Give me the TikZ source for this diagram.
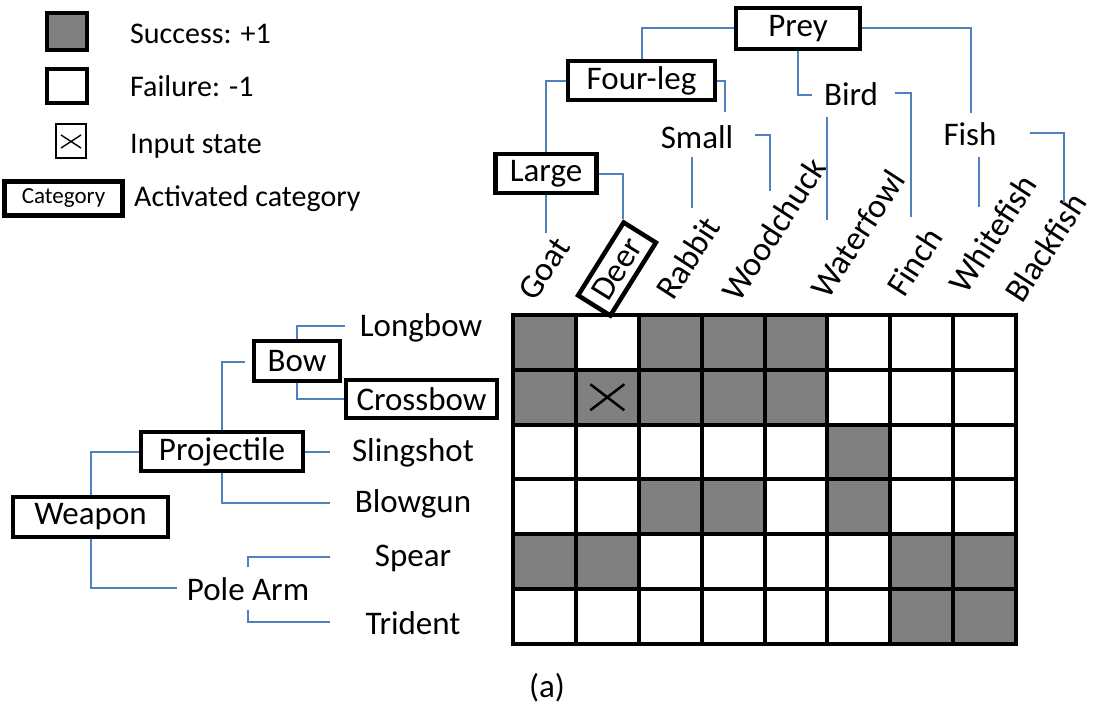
\documentclass[tikz,border=0pt]{standalone}
\usepackage{fontspec}
\setmainfont{Carlito}
\definecolor{cellgray}{HTML}{808080}
\definecolor{linkblue}{HTML}{4F81BD}
\begin{document}
\begin{tikzpicture}[x=1pt,y=-1pt,
  catbox/.style={draw=black, line width=4.5pt, fill=white, inner sep=0pt,
    font=\fontsize{33}{36}\selectfont},
  plain/.style={inner sep=0pt, font=\fontsize{33}{36}\selectfont},
  legtext/.style={inner sep=0pt, anchor=west, font=\fontsize{30}{34}\selectfont},
  colname/.style={inner sep=0pt, anchor=base west, rotate=57,
    font=\fontsize{34}{38}\selectfont},
  link/.style={draw=linkblue, line width=2pt},
  gridline/.style={draw=black, line width=4pt}
]
\useasboundingbox (0,0) rectangle (1094,709);

% ---------- legend ----------
\draw[line width=4.5pt, fill=cellgray] (47,13) rectangle (87,50);
\draw[line width=4.5pt, fill=white] (47,69) rectangle (87,103);
\draw[line width=1.6pt] (56,124) rectangle (86,158);
\draw[line width=1.4pt] (61,135) -- (81,148) (61,148) -- (81,135);
\node[draw, line width=5pt, minimum width=118pt, minimum height=34pt, inner sep=0pt,
  font=\fontsize{23}{26}\selectfont] (legcat) at (63.5,198) {Category};
\node[legtext] (legsucc) at (130,34) {Success: +1};
\node[legtext] (legfail) at (130,86) {Failure: -1};
\node[legtext] (leginput) at (130,146) {Input state};
\node[legtext] (legact) at (134,199) {Activated category};

% ---------- prey hierarchy ----------
\node[catbox, minimum width=124pt, minimum height=41pt] (prey) at (798,28.5) {Prey};
\node[catbox, minimum width=147pt, minimum height=39pt] (fourleg) at (641.5,80.5) {Four-leg};
\node[catbox, minimum width=101pt, minimum height=39pt] (large) at (546,173.5) {Large};
\node[plain] (bird) at (851,94) {Bird};
\node[plain] (small) at (697,137) {Small};
\node[plain] (fish) at (970,134) {Fish};

\node[colname] (goat) at (535,303) {Goat};
\node[catbox, rotate=58, minimum width=86pt, minimum height=38pt,
  font=\fontsize{34}{38}\selectfont] (deer) at (617,269) {Deer};
\node[colname] (rabbit) at (673,302) {Rabbit};
\node[colname] (woodchuck) at (739,304) {Woodchuck};
\node[colname] (waterfowl) at (828,301) {Waterfowl};
\node[colname] (finch) at (904,299) {Finch};
\node[colname] (whitefish) at (966,296) {Whitefish};
\node[colname] (blackfish) at (1022,305) {Blackfish};

\coordinate (fishtop) at (971,113);
\coordinate (birdin) at (812,95);
\coordinate (smallin) at (725,112);
\coordinate (goattop) at (546,233);
\coordinate (rabbitA) at (692,157);
\coordinate (rabbitB) at (692,208);
\coordinate (smallout) at (755,135);
\coordinate (woodtop) at (770,191);
\coordinate (waterA) at (827,117);
\coordinate (waterB) at (827,220);
\coordinate (birdout) at (895,93);
\coordinate (finchtop) at (911,217);
\coordinate (whiteA) at (979,157);
\coordinate (whiteB) at (979,207);
\coordinate (fishout) at (1030,133);
\coordinate (blacktop) at (1064,203);

\draw[link] (prey.west) -| (fourleg.north);
\draw[link] (prey.east) -| (fishtop);
\draw[link] (prey.south) |- (birdin);
\draw[link] (fourleg.west) -| (large.north);
\draw[link] (fourleg.east) -| (smallin);
\draw[link] (large.east) -| (deer.north east);
\draw[link] (large.south) -- (goattop);
\draw[link] (rabbitA) -- (rabbitB);
\draw[link] (smallout) -| (woodtop);
\draw[link] (waterA) -- (waterB);
\draw[link] (birdout) -| (finchtop);
\draw[link] (whiteA) -- (whiteB);
\draw[link] (fishout) -| (blacktop);

% ---------- weapon hierarchy ----------
\node[catbox, minimum width=155pt, minimum height=40pt] (weapon) at (90.5,517) {Weapon};
\node[catbox, minimum width=162pt, minimum height=39pt] (projectile) at (222,451.5) {Projectile};
\node[catbox, minimum width=86pt, minimum height=40pt] (bow) at (297,361) {Bow};
\node[catbox, minimum width=151pt, minimum height=38pt] (crossbow) at (421.5,399) {Crossbow};
\node[plain] (longbow) at (421,328) {Longbow};
\node[plain] (slingshot) at (413,453) {Slingshot};
\node[plain] (blowgun) at (413,504) {Blowgun};
\node[plain] (spear) at (413,558) {Spear};
\node[plain] (polearm) at (248,589) {Pole Arm};
\node[plain] (trident) at (413,623) {Trident};

\coordinate (polein) at (177,588);
\coordinate (bowin) at (245,362);
\coordinate (slingin) at (330,451.5);
\coordinate (blowin) at (330,503);
\coordinate (longin) at (345,326);
\coordinate (spearfoot) at (248,567);
\coordinate (spearin) at (330,557);
\coordinate (tridfoot) at (248,610);
\coordinate (tridin) at (330,622);

\draw[link] (weapon.north) |- (projectile.west);
\draw[link] (weapon.south) |- (polein);
\draw[link] (projectile.north) |- (bowin);
\draw[link] (projectile.east) -- (slingin);
\draw[link] (projectile.south) |- (blowin);
\draw[link] (bow.north) |- (longin);
\draw[link] (bow.south) |- (crossbow.west);
\draw[link] (spearfoot) |- (spearin);
\draw[link] (tridfoot) |- (tridin);

% ---------- outcome grid ----------
\def\gx{513}\def\gy{315}\def\cw{62.875}\def\ch{54.83}
\foreach \r/\pattern in {1/{1,0,1,1,1,0,0,0},2/{1,1,1,1,1,0,0,0},3/{0,0,0,0,0,1,0,0},
                         4/{0,0,1,1,0,1,0,0},5/{1,1,0,0,0,0,1,1},6/{0,0,0,0,0,0,1,1}}{
  \foreach \v [count=\c] in \pattern {
    \ifnum\v=1
      \fill[cellgray] ({\gx+(\c-1)*\cw},{\gy+(\r-1)*\ch}) rectangle ++(\cw,\ch);
    \fi
  }
}
\foreach \c in {1,...,7} \draw[gridline] ({\gx+\c*\cw},\gy) -- ++(0,6*\ch);
\foreach \r in {1,...,5} \draw[gridline] (\gx,{\gy+\r*\ch}) -- ++(8*\cw,0);
\draw[line width=4.5pt] (\gx,\gy) rectangle ++(8*\cw,6*\ch);
% input state mark
\draw[line width=2.5pt] ({\gx+1.5*\cw},{\gy+1.5*\ch}) +(-17,-13) -- +(17,13)
                                                      +(-17,13) -- +(17,-13);

\node[plain] (caption) at (547,688) {(a)};
\end{tikzpicture}
\end{document}
